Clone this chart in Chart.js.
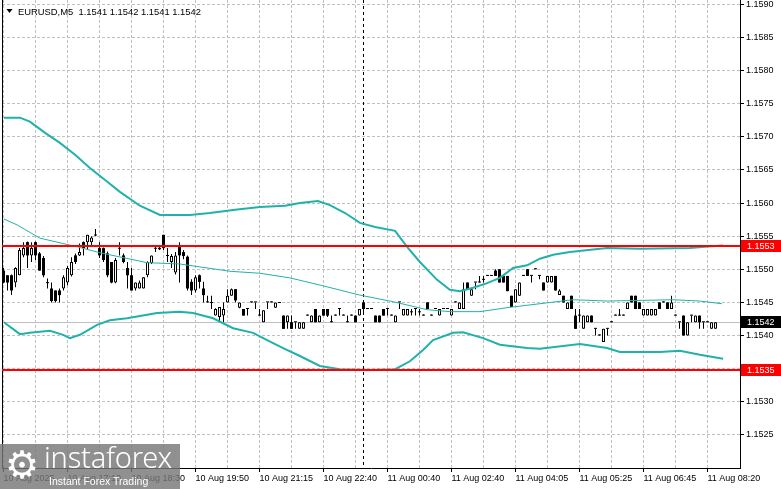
<!DOCTYPE html>
<html>
<head>
<meta charset="utf-8">
<script src="https://cdn.jsdelivr.net/npm/chart.js@4.4.0/dist/chart.umd.min.js"></script>
<style>
html, body { margin: 0; padding: 0; background: #fff; }
#wrap { position: relative; width: 781px; height: 489px; overflow: hidden; }
#wm { position: absolute; left: 0; top: 444px; width: 180px; height: 45px; background: rgba(120,120,120,0.82); color: #fff; overflow: hidden; }
#gear { position: absolute; left: 5px; top: -4px; font: 38px 'DejaVu Sans'; line-height: 50px; }
#brand { position: absolute; left: 44px; top: -3px; font: 300 29px 'Noto Sans'; line-height: 32px; letter-spacing: -0.2px; }
#tag { position: absolute; left: 49px; top: 31px; font: 10.5px 'Liberation Sans'; line-height: 12px; }
</style>
</head>
<body>
<div id="wrap">
  <canvas id="chart" width="781" height="489"></canvas>
  <div id="wm"><span id="gear">⚙</span><span id="brand">instaforex</span><span id="tag">Instant Forex Trading</span></div>
</div>
<script>
// EURUSD M5, one entry per bar (oldest first)
const opens = [
  1.15498,1.15491,1.15491,1.1548,1.15491,1.15521,1.15541,1.15521,1.15541,1.15524,
  1.15517,1.1548,1.15471,1.15468,1.15468,1.15471,1.1548,1.15491,1.15521,1.15521,
  1.15541,1.15541,1.15541,1.15552,1.15532,1.15532,1.15524,1.15511,1.1548,1.15532,
  1.15521,1.15502,1.15491,1.15471,1.15471,1.15471,1.15491,1.15509,1.15532,1.1553,
  1.15552,1.15521,1.15511,1.15495,1.15534,1.15526,1.15519,1.15481,1.15468,1.15491,
  1.15471,1.15451,1.1545,1.1543,1.15428,1.1543,1.1545,1.1546,1.1547,1.15442,
  1.1544,1.1544,1.1545,1.1545,1.1543,1.1542,1.1545,1.1545,1.15442,1.1545,
  1.1543,1.1542,1.1542,1.1542,1.1541,1.1541,1.1543,1.1542,1.1544,1.1542,
  1.1544,1.1544,1.1542,1.1543,1.1544,1.1543,1.1542,1.1543,1.1543,1.1543,
  1.1545,1.1544,1.1544,1.1543,1.1543,1.1544,1.1544,1.1543,1.1542,1.1545,
  1.1543,1.1543,1.15435,1.1544,1.15436,1.1543,1.1545,1.1543,1.1544,1.1543,
  1.1544,1.1544,1.1543,1.1545,1.1544,1.1544,1.1548,1.1546,1.1548,1.1548,
  1.15485,1.1549,1.1549,1.15498,1.155,1.1549,1.1549,1.1546,1.1545,1.1546,
  1.1549,1.155,1.1549,1.155,1.1549,1.1548,1.1548,1.1548,1.1549,1.15461,
  1.1546,1.1544,1.1546,1.1543,1.1543,1.1541,1.1542,1.1543,1.1541,1.154,
  1.1539,1.1541,1.1542,1.1543,1.1543,1.1543,1.1544,1.1546,1.1546,1.1545,
  1.1543,1.1543,1.1543,1.1543,1.1545,1.1545,1.1545,1.1544,1.1543,1.1542,
  1.1543,1.154,1.1543,1.1542,1.1543,1.1542,1.1542,1.1541,1.1541
];
const highs = [
  1.15502,1.15491,1.15492,1.15503,1.15532,1.15541,1.15542,1.15541,1.15542,1.15526,
  1.1552,1.15486,1.1548,1.15468,1.15471,1.15491,1.15505,1.15518,1.15524,1.15539,
  1.15542,1.15552,1.1555,1.15561,1.15541,1.15533,1.15527,1.15511,1.15517,1.15541,
  1.15524,1.15511,1.15502,1.1548,1.15483,1.15488,1.15512,1.15521,1.15536,1.15536,
  1.15552,1.15532,1.15523,1.15526,1.15541,1.15529,1.15521,1.15485,1.15491,1.15492,
  1.15481,1.1546,1.1546,1.15441,1.15443,1.1545,1.1547,1.15471,1.1547,1.1545,
  1.1544,1.1544,1.1545,1.1545,1.1544,1.15438,1.1545,1.1545,1.1545,1.1545,
  1.1543,1.1543,1.1543,1.1542,1.1542,1.1542,1.1543,1.1543,1.1544,1.1543,
  1.1544,1.1544,1.1543,1.1543,1.1544,1.1543,1.1543,1.1543,1.1543,1.1544,
  1.1545,1.1544,1.1544,1.1543,1.1543,1.1544,1.1544,1.1543,1.1543,1.1545,
  1.1544,1.1544,1.1544,1.1544,1.1544,1.1543,1.1545,1.1543,1.1544,1.1544,
  1.1544,1.1544,1.1544,1.1545,1.1545,1.1548,1.1548,1.1547,1.1548,1.1549,
  1.1549,1.1549,1.1549,1.155,1.155,1.1549,1.1549,1.1546,1.1547,1.1548,
  1.1549,1.155,1.1549,1.155,1.1549,1.1548,1.1549,1.1549,1.1549,1.1547,
  1.1546,1.1545,1.1546,1.1544,1.1544,1.1543,1.1543,1.1543,1.1541,1.154,
  1.1541,1.1541,1.1542,1.1543,1.1544,1.1543,1.1545,1.1546,1.1546,1.1545,
  1.1544,1.1544,1.1544,1.1544,1.1545,1.1545,1.1545,1.1546,1.1543,1.1542,
  1.1543,1.1542,1.1543,1.1543,1.1543,1.1542,1.1542,1.1542,1.1542
];
const lows = [
  1.15479,1.15468,1.15461,1.15473,1.15491,1.15518,1.15502,1.15511,1.15514,1.15498,
  1.15488,1.15471,1.1545,1.1545,1.1545,1.15468,1.15476,1.15489,1.15508,1.1552,
  1.15521,1.15529,1.15536,1.1555,1.15517,1.15511,1.15488,1.15479,1.15479,1.15521,
  1.15509,1.15471,1.15468,1.15468,1.15471,1.15471,1.15488,1.15508,1.15526,1.15529,
  1.15529,1.15511,1.15502,1.15492,1.1548,1.15515,1.15468,1.15461,1.15465,1.15471,
  1.1545,1.1545,1.1544,1.1543,1.1542,1.1542,1.1545,1.1546,1.1545,1.15441,
  1.1543,1.1543,1.1545,1.1544,1.1543,1.1542,1.1544,1.1545,1.15442,1.15449,
  1.1541,1.1541,1.1541,1.1541,1.1541,1.1541,1.1543,1.1542,1.1542,1.1542,
  1.1543,1.15428,1.1542,1.1543,1.1543,1.1543,1.1542,1.1543,1.1542,1.1543,
  1.15433,1.1544,1.1544,1.1542,1.1542,1.1543,1.1543,1.1543,1.1542,1.1544,
  1.1543,1.1543,1.1543,1.1543,1.1543,1.1543,1.1544,1.1543,1.1544,1.1543,
  1.1544,1.1544,1.1543,1.1545,1.1544,1.1544,1.1547,1.1546,1.1547,1.1548,
  1.1548,1.1549,1.1549,1.1549,1.1548,1.1548,1.15467,1.15443,1.1545,1.1546,
  1.1549,1.1549,1.1548,1.155,1.15485,1.15468,1.1548,1.1548,1.15468,1.15461,
  1.1545,1.1544,1.1544,1.1541,1.1542,1.1541,1.1542,1.1542,1.154,1.154,
  1.1539,1.154,1.1542,1.1543,1.1543,1.1543,1.1544,1.1545,1.1544,1.1544,
  1.1543,1.1543,1.1543,1.1543,1.1544,1.1545,1.1544,1.1544,1.1543,1.1541,
  1.154,1.154,1.1542,1.1542,1.1541,1.1541,1.1542,1.1541,1.1541
];
const closes = [
  1.1548,1.1548,1.15468,1.15502,1.15529,1.15532,1.15521,1.15532,1.15521,1.15498,
  1.15491,1.15479,1.15452,1.15452,1.15461,1.15488,1.15502,1.15511,1.15511,1.15526,
  1.15532,1.15552,1.15548,1.15551,1.15521,1.15514,1.15491,1.1548,1.15514,1.15531,
  1.15511,1.15491,1.15468,1.1548,1.1548,1.15488,1.15511,1.15521,1.15531,1.15533,
  1.15532,1.1552,1.1552,1.15521,1.15521,1.1552,1.15471,1.15468,1.15488,1.15481,
  1.15461,1.1545,1.15449,1.1544,1.15443,1.1544,1.1546,1.1547,1.15453,1.1545,
  1.1543,1.1544,1.1545,1.1545,1.1543,1.15438,1.1545,1.1545,1.1545,1.15449,
  1.1541,1.1543,1.1541,1.1542,1.1542,1.1542,1.1543,1.1543,1.1542,1.1543,
  1.1543,1.1543,1.1542,1.1543,1.1544,1.1543,1.1542,1.1543,1.1542,1.1544,
  1.1544,1.1544,1.1544,1.1542,1.1542,1.1543,1.1544,1.1543,1.1543,1.1545,
  1.1544,1.1544,1.15435,1.1544,1.15435,1.1543,1.1544,1.1543,1.1544,1.1544,
  1.1544,1.1544,1.1544,1.1545,1.1545,1.1547,1.1547,1.1547,1.1548,1.1548,
  1.15484,1.1549,1.1549,1.1549,1.1548,1.1548,1.15467,1.15443,1.1547,1.1548,
  1.1549,1.1549,1.1549,1.155,1.1549,1.15468,1.1549,1.1549,1.15468,1.15468,
  1.1545,1.1545,1.1544,1.1541,1.1543,1.1543,1.1543,1.1542,1.1541,1.154,
  1.1541,1.1541,1.1542,1.1543,1.1543,1.1543,1.1545,1.1545,1.1544,1.1544,
  1.1544,1.1544,1.1544,1.1544,1.1544,1.1545,1.1544,1.1545,1.1543,1.1542,
  1.154,1.1542,1.1543,1.1543,1.1542,1.1542,1.1542,1.1542,1.1542
];

// Bollinger bands, read as [bar, price] points
const upperBand = [
  [0.1,1.15729],[4.1,1.15729],[6.6,1.15723],[10.4,1.15706],[14.1,1.15691],[17.9,1.15673],
  [21.6,1.15653],[25.4,1.15635],[29.1,1.15617],[34.1,1.15596],[39.1,1.15582],[46.6,1.15582],
  [51.6,1.15585],[57.9,1.1559],[64.1,1.15594],[70.4,1.15596],[74.1,1.156],[78.6,1.15603],
  [81.6,1.15597],[85.4,1.15585],[89.1,1.1557],[92.9,1.15564],[97.9,1.15558],[100.9,1.15534],
  [104.1,1.15511],[108.4,1.15484],[111.6,1.15469],[114.1,1.15467],[117.4,1.15472],[120.9,1.15479],
  [124.1,1.15487],[127.4,1.15502],[130.9,1.15506],[134.1,1.15516],[137.4,1.15522],[141.6,1.15526],
  [150.9,1.15532],[159.1,1.15531],[171.6,1.15532],[175.4,1.15534],[179.9,1.15536]
];
const middleBand = [
  [0.1,1.15576],[3.4,1.15567],[9.1,1.15547],[18.4,1.15534],[24.1,1.15525],[35.9,1.1551],
  [44.1,1.15508],[56.6,1.15497],[64.1,1.15494],[71.6,1.15487],[79.9,1.15475],[89.1,1.15461],
  [97.4,1.15451],[105.9,1.15439],[111.6,1.15436],[119.1,1.15436],[125.9,1.15442],[134.1,1.15448],
  [142.4,1.15454],[150.9,1.15452],[167.4,1.15454],[174.1,1.15452],[179.6,1.15448]
];
const lowerBand = [
  [0.1,1.1542],[4.1,1.15402],[6.6,1.15404],[11.6,1.15407],[14.9,1.15401],[16.6,1.15396],
  [19.1,1.15401],[23.4,1.15416],[26.6,1.15423],[30.9,1.15426],[38.4,1.15434],[44.1,1.15436],
  [47.4,1.15434],[52.4,1.15426],[57.4,1.15411],[62.4,1.15404],[65.9,1.15393],[69.9,1.15381],
  [74.1,1.15369],[79.1,1.15354],[84.1,1.15349],[91.6,1.15348],[97.9,1.15349],[101.6,1.15361],
  [104.9,1.15378],[107.4,1.15393],[112.4,1.15404],[114.9,1.15405],[119.9,1.15396],[124.1,1.15386],
  [130.9,1.15381],[134.1,1.1538],[144.1,1.15387],[150.9,1.15381],[154.1,1.15375],[164.1,1.15375],
  [169.1,1.15377],[174.1,1.15371],[179.9,1.15365]
];

const timeLabels = ['10 Aug 2025', '10 Aug 17:10', '10 Aug 18:30', '10 Aug 19:50', '10 Aug 21:15', '10 Aug 22:40',
  '11 Aug 00:40', '11 Aug 02:40', '11 Aug 04:05', '11 Aug 05:25', '11 Aug 06:45', '11 Aug 08:20'];
const gridIdx = [0, 8, 16, 24, 32, 40, 48, 56, 64, 72, 80, 88, 96, 104, 112, 120, 128, 136, 144, 152, 160, 168, 176];
const yTickValues = [1.1525, 1.1530, 1.1535, 1.1540, 1.1545, 1.1550, 1.1555, 1.1560, 1.1565, 1.1570, 1.1575, 1.1580, 1.1585, 1.1590];
const levelValues = [1.15535, 1.15348];
const levelLabels = ['1.1553', '1.1535'];
const separatorIdx = 90;

const TEAL = '#20b2aa';
const FONT = "'Liberation Sans', Arial, sans-serif";

const bars = opens.map((o, i) => i);
const bodyColors = bars.map(i => closes[i] > opens[i] ? '#ffffff' : '#000000');
const bodyBorders = bars.map(i => closes[i] > opens[i] ? 1 : 0);

/**
 * Terminal decorations: dashed grid, price lines, right-side price tags, header
 */
const terminal = {
    id: 'terminal',
    beforeDatasetsDraw(chart) {
        const {ctx, chartArea: a, scales: {x, y}} = chart;
        ctx.save();
        ctx.lineWidth = 1;
        ctx.strokeStyle = '#c0c0c0';
        ctx.setLineDash([3, 2]);
        ctx.beginPath();
        for (const v of yTickValues) {
            const py = Math.floor(y.getPixelForValue(v)) + 0.5;
            ctx.moveTo(a.left, py);
            ctx.lineTo(a.right, py);
        }
        for (const v of gridIdx) {
            const px = Math.floor(x.getPixelForValue(v)) + 0.5;
            ctx.moveTo(px, a.top);
            ctx.lineTo(px, a.bottom);
        }
        ctx.stroke();

        // last price line
        ctx.setLineDash([]);
        const cp = Math.floor(y.getPixelForValue(closes[closes.length - 1])) + 0.5;
        ctx.beginPath();
        ctx.moveTo(a.left, cp);
        ctx.lineTo(a.right, cp);
        ctx.stroke();

        // period separator
        ctx.strokeStyle = '#000';
        ctx.setLineDash([3, 3]);
        const sx = Math.floor(x.getPixelForValue(separatorIdx)) + 0.5;
        ctx.beginPath();
        ctx.moveTo(sx, a.top);
        ctx.lineTo(sx, a.bottom);
        ctx.stroke();

        ctx.setLineDash([]);
        ctx.beginPath();
        ctx.moveTo(a.left + 0.5, a.top);
        ctx.lineTo(a.left + 0.5, a.bottom);
        ctx.stroke();
        ctx.restore();
    },
    afterDatasetsDraw(chart) {
        const {ctx, chartArea: a, scales: {y}} = chart;
        ctx.save();
        ctx.strokeStyle = '#ff0000';
        ctx.lineWidth = 2;
        for (const v of levelValues) {
            const py = Math.round(y.getPixelForValue(v));
            ctx.beginPath();
            ctx.moveTo(a.left, py);
            ctx.lineTo(a.right, py);
            ctx.stroke();
        }
        ctx.restore();
    },
    afterDraw(chart) {
        const {ctx, chartArea: a, scales: {y}} = chart;
        ctx.save();
        ctx.font = '9px ' + FONT;
        ctx.textBaseline = 'middle';
        const tag = (value, text, bg) => {
            const py = Math.round(y.getPixelForValue(value));
            ctx.fillStyle = bg;
            ctx.fillRect(a.right + 1, py - 6, chart.width - a.right - 1, 12);
            ctx.fillStyle = '#fff';
            ctx.fillText(text, a.right + 7, py + 0.5);
        };
        levelValues.forEach((v, i) => tag(v, levelLabels[i], '#ff0000'));
        const last = closes.length - 1;
        tag(closes[last], closes[last].toFixed(4), '#000');

        // header
        ctx.fillStyle = '#000';
        ctx.beginPath();
        ctx.moveTo(6.5, 9);
        ctx.lineTo(12.5, 9);
        ctx.lineTo(9.5, 13);
        ctx.closePath();
        ctx.fill();
        ctx.textBaseline = 'alphabetic';
        ctx.font = '9.4px ' + FONT;
        const head = 'EURUSD,M5  ' + [opens[last], highs[last], lows[last], closes[last]].map(v => v.toFixed(4)).join(' ');
        ctx.fillText(head, 18, 15);
        ctx.restore();
    }
};

const chart = new Chart(document.getElementById('chart'), {
    type: 'bar',
    data: {
        datasets: [
            {
                type: 'line', label: 'upper', order: 1,
                data: upperBand.map(([x, y]) => ({x, y})),
                borderColor: TEAL, borderWidth: 2, pointRadius: 0, tension: 0
            },
            {
                type: 'line', label: 'middle', order: 1,
                data: middleBand.map(([x, y]) => ({x, y})),
                borderColor: TEAL, borderWidth: 1, pointRadius: 0, tension: 0
            },
            {
                type: 'line', label: 'lower', order: 1,
                data: lowerBand.map(([x, y]) => ({x, y})),
                borderColor: TEAL, borderWidth: 2, pointRadius: 0, tension: 0
            },
            {
                label: 'bodies', order: 2,
                data: bars.map(i => ({x: i, y: [opens[i], closes[i]]})),
                backgroundColor: bodyColors,
                borderColor: '#000',
                borderWidth: bodyBorders,
                borderSkipped: false,
                inflateAmount: 0,
                barThickness: 3,
                minBarLength: 1,
                grouped: false
            },
            {
                label: 'wicks', order: 3,
                data: bars.map(i => ({x: i, y: [lows[i], highs[i]]})),
                backgroundColor: '#000',
                borderWidth: 0,
                inflateAmount: 0,
                barThickness: 1,
                minBarLength: 1,
                grouped: false
            }
        ]
    },
    options: {
        responsive: false,
        devicePixelRatio: 1,
        animation: false,
        events: [],
        layout: {padding: {left: 2, top: 0, right: 0, bottom: 0}},
        plugins: {legend: {display: false}, tooltip: {enabled: false}},
        scales: {
            x: {
                type: 'linear',
                min: -0.375,
                max: 184.125,
                offset: false,
                grid: {
                    offset: false,
                    drawOnChartArea: false,
                    drawTicks: true,
                    tickLength: 4,
                    tickColor: c => c.index % 2 === 0 ? '#000' : 'rgba(0,0,0,0)'
                },
                border: {display: true, color: '#000', width: 1},
                ticks: {
                    autoSkip: false,
                    maxRotation: 0,
                    align: 'start',
                    padding: 1,
                    color: '#000',
                    font: {family: FONT, size: 9},
                    callback: (v, i) => i % 2 === 0 ? timeLabels[i / 2] : ''
                },
                afterBuildTicks: s => { s.ticks = gridIdx.map(v => ({value: v})); },
                afterFit: s => { s.height = 21; s.paddingLeft = 0; s.paddingRight = 0; }
            },
            y: {
                type: 'linear',
                position: 'right',
                min: 1.151998,
                max: 1.159068,
                grid: {drawOnChartArea: false, drawTicks: true, tickLength: 4, tickColor: '#000'},
                border: {display: true, color: '#000', width: 1},
                ticks: {
                    autoSkip: false,
                    padding: 2,
                    color: '#000',
                    font: {family: FONT, size: 9},
                    callback: v => v.toFixed(4)
                },
                afterBuildTicks: s => { s.ticks = yTickValues.map(v => ({value: v})); },
                afterFit: s => { s.width = 41; s.paddingTop = 0; s.paddingBottom = 0; }
            }
        }
    },
    plugins: [terminal]
});
</script>
</body>
</html>
